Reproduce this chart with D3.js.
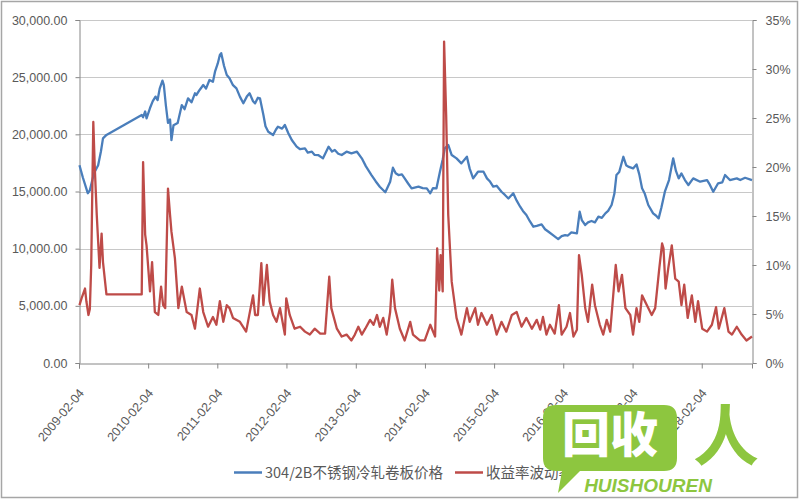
<!DOCTYPE html>
<html>
<head>
<meta charset="utf-8">
<script src="https://cdn.jsdelivr.net/npm/d3@7/dist/d3.min.js"></script>
<style>
html,body{margin:0;padding:0;background:#fff;}
svg{display:block;}
</style>
</head>
<body>
<svg id="chart" width="800" height="500"></svg>
<script>
// ---------- DATA ----------
const seriesNames = ["304/2B不锈钢冷轧卷板价格", "收益率波动率"];
const xTickLabels = ["2009-02-04","2010-02-04","2011-02-04","2012-02-04","2013-02-04","2014-02-04","2015-02-04","2016-02-04","2017-02-04","2018-02-04"];
const leftTicks = [0, 5000, 10000, 15000, 20000, 25000, 30000];
const rightTicks = [0, 5, 10, 15, 20, 25, 30, 35];

// price series (decimal year, yuan/ton)
const priceYears = [2009.10,2009.15,2009.22,2009.25,2009.31,2009.37,2009.41,2009.44,2009.49,2010.00,2010.02,2010.05,2010.07,2010.12,2010.16,2010.20,2010.23,2010.26,2010.30,2010.32,2010.35,2010.38,2010.41,2010.43,2010.46,2010.52,2010.58,2010.62,2010.67,2010.72,2010.77,2010.79,2010.84,2010.89,2010.93,2010.98,2011.03,2011.06,2011.10,2011.13,2011.15,2011.19,2011.23,2011.27,2011.32,2011.37,2011.42,2011.47,2011.52,2011.56,2011.61,2011.64,2011.68,2011.71,2011.76,2011.79,2011.83,2011.90,2011.94,2011.97,2012.03,2012.07,2012.12,2012.17,2012.24,2012.29,2012.36,2012.40,2012.46,2012.50,2012.55,2012.62,2012.70,2012.75,2012.79,2012.84,2012.89,2012.96,2013.03,2013.11,2013.18,2013.24,2013.32,2013.38,2013.44,2013.52,2013.59,2013.63,2013.67,2013.71,2013.76,2013.80,2013.85,2013.90,2014.00,2014.06,2014.12,2014.17,2014.21,2014.26,2014.31,2014.35,2014.38,2014.43,2014.48,2014.55,2014.62,2014.70,2014.74,2014.79,2014.86,2014.94,2014.99,2015.03,2015.08,2015.13,2015.20,2015.25,2015.30,2015.37,2015.42,2015.47,2015.51,2015.56,2015.61,2015.66,2015.71,2015.78,2015.83,2015.88,2015.94,2016.02,2016.07,2016.12,2016.16,2016.21,2016.29,2016.33,2016.36,2016.41,2016.45,2016.50,2016.55,2016.60,2016.65,2016.70,2016.74,2016.79,2016.83,2016.86,2016.90,2016.96,2017.00,2017.03,2017.10,2017.15,2017.19,2017.23,2017.27,2017.32,2017.39,2017.43,2017.47,2017.51,2017.56,2017.62,2017.68,2017.72,2017.76,2017.80,2017.85,2017.90,2017.97,2018.07,2018.17,2018.21,2018.26,2018.33,2018.39,2018.43,2018.50,2018.60,2018.65,2018.72,2018.82];
const priceValues = [17300,16200,14850,15100,16600,17300,18500,19650,19950,21700,21500,22000,21400,22300,22900,23300,23000,24000,24700,24300,22500,21000,21300,19500,20800,21000,22560,22200,23150,22800,23590,23440,23900,24310,24000,24750,24600,25480,26200,26940,27100,26000,25190,24900,24300,24020,23300,22710,23300,23590,22900,22710,23200,23150,21690,20700,20230,19940,20400,20670,20500,20820,20090,19500,18920,18700,18770,18400,18480,18200,18190,17900,18920,18500,18630,18300,18190,18480,18340,18480,17900,17200,16440,15900,15420,14930,15860,17080,16600,16440,16500,16150,15700,15280,15420,15300,15280,14840,15300,15280,16730,17800,18770,19070,18190,17900,17460,18040,17000,16150,16730,16730,16150,15900,15420,15500,14980,14700,14390,14840,14200,13670,13300,12940,12400,11920,12000,12130,11700,11480,11200,10840,11100,11190,11150,11430,11340,13230,12500,12070,12300,12420,12300,12800,12700,13090,13300,13820,14800,16440,16700,18040,17300,17170,17020,17370,16500,15280,14800,13820,13090,12900,12650,13600,14980,16000,17900,16800,16150,16580,16000,15570,16150,15860,16000,15600,14980,15720,15800,16440,16000,16150,16000,16200,16000];

// volatility series (decimal year, percent)
const volYears = [2009.10,2009.13,2009.18,2009.20,2009.23,2009.25,2009.27,2009.30,2009.32,2009.35,2009.39,2009.42,2009.44,2009.49,2010.00,2010.02,2010.05,2010.07,2010.12,2010.15,2010.19,2010.24,2010.28,2010.31,2010.34,2010.38,2010.41,2010.43,2010.48,2010.53,2010.58,2010.65,2010.72,2010.77,2010.84,2010.89,2010.96,2011.03,2011.08,2011.13,2011.18,2011.23,2011.27,2011.32,2011.42,2011.51,2011.61,2011.64,2011.68,2011.73,2011.76,2011.81,2011.85,2011.90,2011.95,2012.00,2012.07,2012.09,2012.14,2012.21,2012.29,2012.36,2012.43,2012.50,2012.58,2012.65,2012.71,2012.74,2012.82,2012.89,2012.96,2013.03,2013.08,2013.13,2013.18,2013.23,2013.30,2013.35,2013.40,2013.44,2013.49,2013.54,2013.59,2013.62,2013.66,2013.73,2013.80,2013.88,2013.92,2014.02,2014.09,2014.17,2014.24,2014.27,2014.30,2014.32,2014.35,2014.37,2014.40,2014.43,2014.48,2014.55,2014.62,2014.70,2014.74,2014.82,2014.86,2014.91,2014.99,2015.06,2015.13,2015.20,2015.27,2015.35,2015.42,2015.49,2015.56,2015.64,2015.71,2015.76,2015.80,2015.85,2015.90,2015.97,2016.03,2016.07,2016.14,2016.19,2016.24,2016.29,2016.32,2016.36,2016.41,2016.45,2016.51,2016.55,2016.62,2016.67,2016.72,2016.77,2016.81,2016.85,2016.89,2016.94,2016.99,2017.06,2017.10,2017.15,2017.19,2017.23,2017.30,2017.37,2017.42,2017.48,2017.52,2017.54,2017.57,2017.61,2017.66,2017.71,2017.76,2017.80,2017.84,2017.89,2017.95,2018.00,2018.04,2018.10,2018.17,2018.24,2018.30,2018.34,2018.42,2018.48,2018.53,2018.60,2018.67,2018.74,2018.82];
const volValues = [5.9,6.6,7.6,6.3,4.9,5.5,10.0,24.6,20.2,15.1,9.7,13.2,10.3,7.0,7.0,20.5,13.1,12.0,7.3,10.3,5.2,4.9,7.8,5.9,5.6,17.8,15.1,13.4,10.7,5.6,7.8,5.2,4.9,3.5,7.6,5.2,3.7,4.7,3.9,6.3,4.2,5.9,5.6,4.6,4.2,3.2,6.9,4.9,4.9,10.2,5.9,10.0,6.3,4.9,4.2,5.6,2.9,6.6,4.9,3.5,3.7,3.2,2.9,3.5,3.0,3.0,8.8,5.6,3.5,2.7,2.9,2.3,2.9,3.7,2.9,3.5,4.4,3.9,4.9,3.7,4.6,2.9,5.2,8.5,5.6,3.5,2.3,4.2,2.9,2.3,2.3,3.9,2.7,11.7,7.4,11.0,7.3,32.8,25.3,15.1,8.3,4.6,2.9,5.6,4.2,5.6,3.9,5.1,3.9,4.9,2.9,4.2,3.2,4.9,5.2,3.7,4.6,3.5,4.4,3.4,4.7,2.9,3.9,3.0,5.9,2.9,3.7,5.1,2.7,3.4,11.0,9.0,5.6,4.2,8.0,5.9,3.9,2.9,4.4,3.2,6.6,10.0,7.3,9.0,5.6,4.9,2.9,5.6,4.2,6.9,5.9,4.9,5.6,9.7,12.2,11.7,7.6,9.7,12.0,8.6,8.3,5.9,8.0,4.6,6.9,4.2,6.3,3.5,3.2,3.9,5.7,3.5,5.6,3.2,2.9,3.7,2.9,2.3,2.7];

// ---------- HELPERS ----------
function yrToDate(y){
  const yr = Math.floor(y);
  const a = new Date(yr,0,1).getTime(), b = new Date(yr+1,0,1).getTime();
  return new Date(a + (y-yr)*(b-a));
}
const parse = d3.timeParse("%Y-%m-%d");

const priceData = priceYears.map((y,i)=>({date:yrToDate(y), v:priceValues[i]}));
const volData = volYears.map((y,i)=>({date:yrToDate(y), v:volValues[i]}));

// ---------- LAYOUT ----------
const svg = d3.select("#chart");
const L = 79, R = 752, T = 20, B = 363;
const font = "'Liberation Sans', Arial, sans-serif";
const textCol = "#595959";
const axisCol = "#868686";
const gridCol = "#c8c8c8";

const x = d3.scaleTime().domain([parse("2009-02-04"), yrToDate(2018.82)]).range([L, R]);
const yL = d3.scaleLinear().domain([0, 30000]).range([B, T]);
const yR = d3.scaleLinear().domain([0, 35]).range([B, T]);

svg.append("rect").attr("x",0).attr("y",0).attr("width",800).attr("height",500).attr("fill","#fff");
svg.append("rect").attr("x",1.5).attr("y",1.5).attr("width",796).attr("height",496)
  .attr("fill","none").attr("stroke","#a6a6a6").attr("stroke-width",1.5);

// gridlines
svg.append("g").selectAll("line").data(leftTicks.filter(d=>d>0)).join("line")
  .attr("x1",L).attr("x2",R)
  .attr("y1",d=>Math.round(yL(d))+0.5).attr("y2",d=>Math.round(yL(d))+0.5)
  .attr("stroke",gridCol).attr("stroke-width",1.2);

// left axis
const gL = svg.append("g").attr("transform",`translate(${L+0.5},0)`)
  .call(d3.axisLeft(yL).tickValues(leftTicks).tickFormat(d3.format(",.2f")).tickSize(4).tickPadding(8));
gL.select(".domain").attr("stroke",axisCol);
gL.selectAll(".tick line").attr("stroke",axisCol);
gL.selectAll(".tick text").attr("fill",textCol).style("font-family",font).style("font-size","12.5px");

// right axis
const gR = svg.append("g").attr("transform",`translate(${R+0.5},0)`)
  .call(d3.axisRight(yR).tickValues(rightTicks).tickFormat(d=>d+"%").tickSize(4).tickPadding(9));
gR.select(".domain").attr("stroke",axisCol);
gR.selectAll(".tick line").attr("stroke",axisCol);
gR.selectAll(".tick text").attr("fill",textCol).style("font-family",font).style("font-size","12.5px");

// bottom axis
const tickDates = xTickLabels.map(parse);
const gB = svg.append("g").attr("transform",`translate(0,${B+0.5})`)
  .call(d3.axisBottom(x).tickValues(tickDates).tickFormat((d,i)=>xTickLabels[i]).tickSize(5));
gB.select(".domain").attr("stroke",axisCol);
gB.selectAll(".tick line").attr("stroke",axisCol);
gB.selectAll(".tick text")
  .attr("fill",textCol).style("font-family",font).style("font-size","12.5px")
  .attr("text-anchor","end").attr("x",0).attr("y",0).attr("dy","0.35em")
  .attr("transform","translate(2,27) rotate(-50)");

// lines
const lineL = d3.line().x(d=>x(d.date)).y(d=>yL(d.v));
const lineR = d3.line().x(d=>x(d.date)).y(d=>yR(d.v));
svg.append("path").datum(priceData).attr("d",lineL).attr("fill","none")
  .attr("stroke","#4a7ebb").attr("stroke-width",2.3).attr("stroke-linejoin","round");
svg.append("path").datum(volData).attr("d",lineR).attr("fill","none")
  .attr("stroke","#be4b48").attr("stroke-width",2.3).attr("stroke-linejoin","round");

// legend
const legend = svg.append("g").style("font-family",font);
const legItems = [{x:234, c:"#4a7ebb", t:seriesNames[0]},{x:455, c:"#be4b48", t:seriesNames[1]}];
legItems.forEach(it=>{
  legend.append("line").attr("x1",it.x).attr("x2",it.x+28).attr("y1",472.5).attr("y2",472.5)
    .attr("stroke",it.c).attr("stroke-width",2.5);
  legend.append("text").attr("x",it.x+31).attr("y",472.5).attr("dy","0.35em")
    .attr("fill",textCol).style("font-size","14.5px")
    .style("font-family","'Noto Sans CJK SC', 'Liberation Sans', sans-serif").text(it.t);
});

// watermark
const green = "#8dc63f";
const wm = svg.append("g");
wm.append("path").attr("d","M556,405 H664 Q677,405 677,418 V458 Q677,471 664,471 H580 L558,493 L562,471 H556 Q543,471 543,458 V418 Q543,405 556,405 Z")
  .attr("fill",green);
wm.append("text").attr("x",610).attr("y",435).attr("dy","0.36em").attr("text-anchor","middle")
  .attr("fill","#fff").style("font-family","'Noto Sans CJK SC', sans-serif").style("font-weight","900")
  .style("font-size","48px").text("回收");
wm.append("text").attr("x",726).attr("y",436).attr("dy","0.36em").attr("text-anchor","middle")
  .attr("fill",green).style("font-family","'Noto Sans CJK SC', sans-serif").style("font-weight","700")
  .style("font-size","66px").text("人");
wm.append("text").attr("x",648).attr("y",492).attr("text-anchor","middle")
  .attr("fill",green).style("font-family","'Liberation Sans', Arial, sans-serif").style("font-weight","700")
  .style("font-style","italic").style("font-size","19px").text("HUISHOUREN");
</script>
</body>
</html>
